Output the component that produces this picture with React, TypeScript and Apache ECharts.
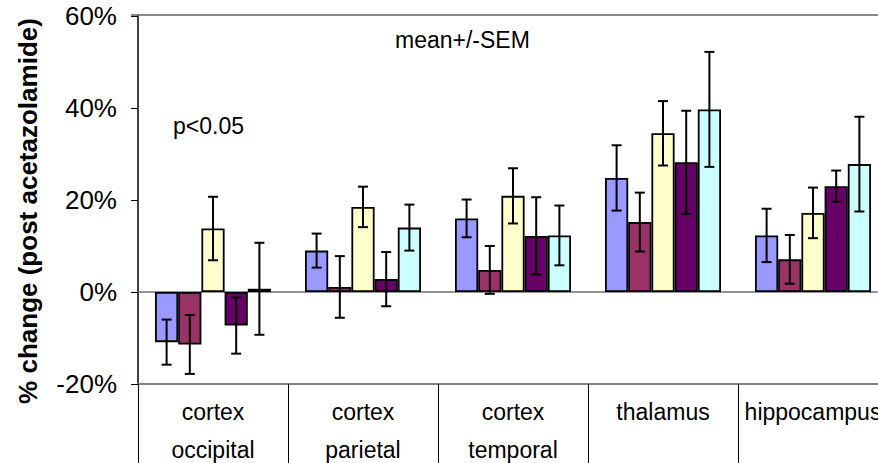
import React, { useEffect, useRef } from "react";
import * as echarts from "echarts";

const categories = ["cortex\noccipital", "cortex\nparietal", "cortex\ntemporal", "thalamus", "hippocampus"];
const seriesNames = ["Group 1", "Group 2", "Group 3", "Group 4", "Group 5"];
const seriesColors = ["#9999FF", "#993366", "#FFFFCC", "#660066", "#CCFFFF"];

const means1 = [-10.9, 9.0, 16.0, 24.8, 12.3];
const means2 = [-11.4, 1.1, 4.8, 15.2, 7.1];
const means3 = [13.8, 18.5, 20.9, 34.5, 17.2];
const means4 = [-7.3, 2.8, 12.2, 28.2, 23.0];
const means5 = [0.7, 14.0, 12.3, 39.7, 27.8];

const sem1 = [4.9, 3.7, 4.1, 7.1, 5.8];
const sem2 = [6.4, 6.7, 5.2, 6.4, 5.3];
const sem3 = [6.9, 4.4, 6.0, 7.0, 5.5];
const sem4 = [6.1, 5.9, 8.4, 11.2, 3.4];
const sem5 = [10.0, 5.0, 6.5, 12.5, 10.3];

const yTicks = [-20, 0, 20, 40, 60];

const FONT = "'Liberation Sans', Arial, Helvetica, sans-serif";
const CAT_GAP = 0.2267;

export default function App() {
  const ref = useRef<HTMLDivElement>(null);

  useEffect(() => {
    if (!ref.current) return;
    const chart = echarts.init(ref.current, undefined, { renderer: "svg" });
    const means = [means1, means2, means3, means4, means5];
    const sems = [sem1, sem2, sem3, sem4, sem5];

    const errData: number[][] = [];
    means.forEach((m, s) => {
      m.forEach((v, c) => {
        errData.push([c, s, v - sems[s][c], v + sems[s][c]]);
      });
    });

    const barSeries = means.map((m, s) => ({
      type: "bar",
      name: seriesNames[s],
      data: m,
      barGap: "0%",
      barCategoryGap: (CAT_GAP * 100).toFixed(2) + "%",
      itemStyle: { color: seriesColors[s], borderColor: "#000", borderWidth: 1.8 },
      z: 2,
      ...(s === 0
        ? {
            markLine: {
              silent: true,
              symbol: "none",
              label: { show: false },
              lineStyle: { color: "#707070", width: 1.5, type: "solid" },
              data: [{ yAxis: 0 }],
              z: 1,
            },
          }
        : {}),
    }));

    chart.setOption({
      animation: false,
      backgroundColor: "#fff",
      grid: {
        left: 138,
        top: 16,
        bottom: 79,
        right: -10,
        containLabel: false,
        outerBoundsMode: "none",
      },
      xAxis: {
        type: "category",
        data: categories,
        axisLine: { show: true, onZero: false, lineStyle: { color: "#808080", width: 2 } },
        axisTick: { show: true, length: 82, alignWithLabel: false, interval: 0, lineStyle: { color: "#000", width: 1 } },
        axisLabel: {
          interval: 0,
          fontSize: 23,
          lineHeight: 38,
          margin: 9,
          color: "#000",
          fontFamily: FONT,
        },
        splitLine: { show: false },
      },
      yAxis: {
        type: "value",
        min: yTicks[0],
        max: yTicks[yTicks.length - 1],
        interval: 20,
        axisLine: { show: true, lineStyle: { color: "#000", width: 1.5 } },
        axisTick: { show: true, length: 7, lineStyle: { color: "#000", width: 1 } },
        axisLabel: {
          formatter: "{value}%",
          fontSize: 26,
          margin: 21,
          color: "#000",
          fontFamily: FONT,
        },
        splitLine: { show: false },
      },
      series: [
        ...barSeries,
        {
          type: "custom",
          name: "SEM",
          data: errData,
          encode: { x: 0, y: [2, 3] },
          z: 5,
          renderItem: (params: any, api: any) => {
            const cat = api.value(0);
            const s = api.value(1);
            const lo = api.value(2);
            const hi = api.value(3);
            const band = api.size([1, 0])[0];
            const bw = (band * (1 - CAT_GAP)) / 5;
            const center = api.coord([cat, 0])[0];
            const x = center + (s - 2) * bw;
            const yLo = api.coord([cat, lo])[1];
            const yHi = api.coord([cat, hi])[1];
            const cap = 5;
            const style = { stroke: "#000", lineWidth: 2 };
            return {
              type: "group",
              children: [
                { type: "line", shape: { x1: x, y1: yLo, x2: x, y2: yHi }, style },
                { type: "line", shape: { x1: x - cap, y1: yLo, x2: x + cap, y2: yLo }, style },
                { type: "line", shape: { x1: x - cap, y1: yHi, x2: x + cap, y2: yHi }, style },
              ],
            };
          },
        },
      ],
      graphic: [
        {
          type: "line",
          shape: { x1: 131, y1: 15, x2: 878, y2: 15 },
          style: { stroke: "#8a8a8a", lineWidth: 2 },
          z: 0,
        },
        {
          type: "text",
          x: 28,
          y: 211,
          rotation: Math.PI / 2,
          style: {
            text: "% change (post acetazolamide)",
            font: `bold 26px ${FONT}`,
            fill: "#000",
            textAlign: "center",
            textVerticalAlign: "middle",
          },
        },
        {
          type: "text",
          x: 395,
          y: 40,
          style: {
            text: "mean+/-SEM",
            font: `23px ${FONT}`,
            fill: "#000",
            textAlign: "left",
            textVerticalAlign: "middle",
          },
        },
        {
          type: "text",
          x: 173,
          y: 126,
          style: {
            text: "p<0.05",
            font: `23px ${FONT}`,
            fill: "#000",
            textAlign: "left",
            textVerticalAlign: "middle",
          },
        },
      ],
    });

    return () => chart.dispose();
  }, []);

  return (
    <div
      ref={ref}
      style={{ position: "absolute", left: 0, top: 0, width: 878, height: 463, background: "#fff" }}
    />
  );
}
